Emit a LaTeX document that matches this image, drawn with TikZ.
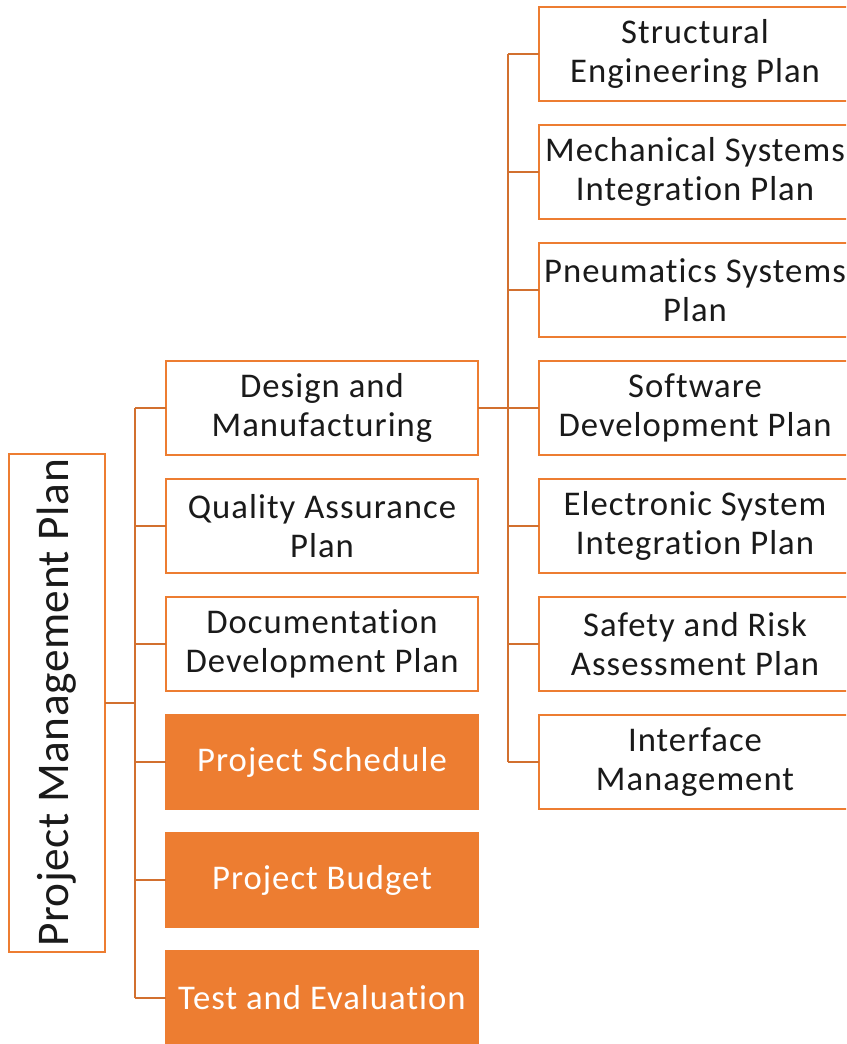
\documentclass[tikz,border=0pt]{standalone}
\usepackage{fontspec}
\setmainfont{Carlito}
\newfontfamily\planfont[LetterSpace=3, Ligatures=NoCommon]{Carlito}
\newfontfamily\rootfont[LetterSpace=1.2, Ligatures=NoCommon]{Carlito}
\usepackage{xcolor}
\usetikzlibrary{positioning}
\definecolor{accent}{HTML}{ED7D31}
\definecolor{linkcol}{HTML}{D2702F}
\definecolor{inkcol}{HTML}{1A1A1A}

\begin{document}
\begin{tikzpicture}[
  x=0.75pt, y=-0.75pt,
  node distance=18pt and 45.75pt,
  planbox/.style={draw=accent, line width=1.5pt, fill=white, text=inkcol, align=center,
    font=\planfont\fontsize{26}{29.5}\selectfont, minimum width=234pt, minimum height=70.5pt,
    inner sep=2pt, outer sep=0pt},
  keybox/.style={planbox, fill=accent, text=white},
  link/.style={draw=linkcol, line width=1.5pt}
]
\useasboundingbox (0,0) rectangle (846,1044);
\clip (0,0) rectangle (846,1044);

\node (pmp) [planbox, minimum width=72pt, minimum height=373.5pt, font=\rootfont\fontsize{34}{40}\selectfont]
  at (57,703) {\rotatebox{90}{Project Management Plan}};

% second level
\node (dm) [planbox] at (322,408) {Design and\\Manufacturing};
\node (qa) [planbox, below=of dm] {Quality Assurance\\Plan};
\node (doc) [planbox, below=of qa] {Documentation\\Development Plan};
\node (sched) [keybox, below=of doc] {Project Schedule};
\node (budget) [keybox, below=of sched] {Project Budget};
\node (test) [keybox, below=of budget] {Test and Evaluation};

% third level
\node (sw) [planbox, right=of dm] {Software\\Development Plan};
\node (pneu) [planbox, above=of sw] {Pneumatics Systems\\Plan};
\node (mech) [planbox, above=of pneu] {Mechanical Systems\\Integration Plan};
\node (struct) [planbox, above=of mech] {Structural\\Engineering Plan};
\node (elec) [planbox, below=of sw] {Electronic System\\Integration Plan};
\node (risk) [planbox, below=of elec] {Safety and Risk\\Assessment Plan};
\node (iface) [planbox, below=of risk] {Interface\\Management};

% connectors
\coordinate (lbus) at (135,0);
\coordinate (rbus) at (508,0);
\draw[link] (pmp.east) -- (lbus |- pmp.east);
\draw[link] (lbus |- dm.west) -- (lbus |- test.west);
\foreach \n in {dm,qa,doc,sched,budget,test}
  \draw[link] (lbus |- \n.west) -- (\n.west);
\draw[link] (dm.east) -- (rbus |- dm.east);
\draw[link] (rbus |- struct.west) -- (rbus |- iface.west);
\foreach \n in {struct,mech,pneu,sw,elec,risk,iface}
  \draw[link] (rbus |- \n.west) -- (\n.west);
\end{tikzpicture}
\end{document}
